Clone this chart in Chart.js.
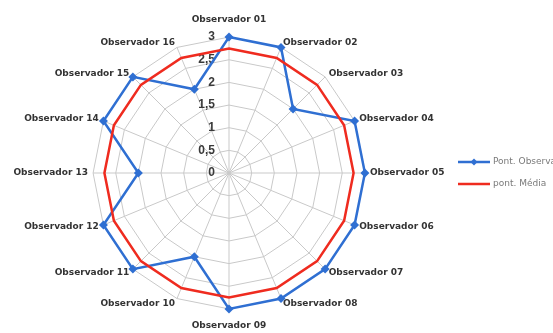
<!DOCTYPE html>
<html lang="pt">
<head>
<meta charset="utf-8">
<title>Pontuação por observador</title>
<script src="https://cdn.jsdelivr.net/npm/chart.js@4/dist/chart.umd.min.js"></script>
<style>
  html, body { margin: 0; padding: 0; background: #ffffff; }
  #grafico { display: block; }
</style>
</head>
<body>
<canvas id="grafico" width="553" height="333"></canvas>
<script>
// Observadores (eixos do radar)
const observadores = [
  'Observador 01', 'Observador 02', 'Observador 03', 'Observador 04',
  'Observador 05', 'Observador 06', 'Observador 07', 'Observador 08',
  'Observador 09', 'Observador 10', 'Observador 11', 'Observador 12',
  'Observador 13', 'Observador 14', 'Observador 15', 'Observador 16'
];

// Pontuação de cada observador
const pontObservador = [3, 3, 2, 3, 3, 3, 3, 3, 3, 2, 3, 3, 2, 3, 3, 2];

// Pontuação média
const pontMedia = [2.75, 2.75, 2.75, 2.75, 2.75, 2.75, 2.75, 2.75,
                   2.75, 2.75, 2.75, 2.75, 2.75, 2.75, 2.75, 2.75];

// Valores e rótulos da escala radial
const valoresEixo = [0, 0.5, 1, 1.5, 2, 2.5, 3];
const rotulosEixo = ['0', '0,5', '1', '1,5', '2', '2,5', '3'];

const nomesSeries = ['Pont. Observador', 'pont. Média'];

const AZUL = '#2f6fd2';
const VERMELHO = '#ef2b1f';

// Rótulos da escala, à esquerda do eixo vertical
const rotulosEscala = {
  id: 'rotulosEscala',
  beforeDatasetsDraw(chart) {
    const r = chart.scales.r;
    const ctx = chart.ctx;
    ctx.save();
    ctx.font = 'bold 12px "Liberation Sans", Arial, sans-serif';
    ctx.fillStyle = '#3a3a3a';
    ctx.textAlign = 'right';
    ctx.textBaseline = 'middle';
    valoresEixo.forEach((v, i) => {
      const d = r.getDistanceFromCenterForValue(v);
      ctx.fillText(rotulosEixo[i], r.xCenter - 14, r.yCenter - d);
    });
    ctx.restore();
  }
};

// Legenda à direita
const legenda = {
  id: 'legenda',
  afterDraw(chart) {
    const ctx = chart.ctx;
    ctx.save();
    chart.data.datasets.forEach((ds, i) => {
      const y = 162 + i * 22;
      ctx.strokeStyle = ds.borderColor;
      ctx.lineWidth = 2.5;
      ctx.beginPath();
      ctx.moveTo(458, y);
      ctx.lineTo(490, y);
      ctx.stroke();
      if (ds.pointRadius > 0) {
        ctx.fillStyle = ds.borderColor;
        ctx.beginPath();
        ctx.moveTo(474, y - 3.5);
        ctx.lineTo(477.5, y);
        ctx.lineTo(474, y + 3.5);
        ctx.lineTo(470.5, y);
        ctx.closePath();
        ctx.fill();
      }
      ctx.font = '9px "DejaVu Sans", sans-serif';
      ctx.fillStyle = '#7a7a7a';
      ctx.textAlign = 'left';
      ctx.textBaseline = 'middle';
      ctx.fillText(ds.label, 493, y);
    });
    ctx.restore();
  }
};

new Chart(document.getElementById('grafico'), {
  type: 'radar',
  data: {
    labels: observadores,
    datasets: [
      {
        label: nomesSeries[0],
        data: pontObservador,
        borderColor: AZUL,
        backgroundColor: AZUL,
        borderWidth: 2.5,
        fill: false,
        tension: 0,
        pointStyle: 'rectRot',
        pointRadius: 4.5,
        pointBackgroundColor: AZUL,
        pointBorderColor: AZUL,
        pointBorderWidth: 0,
        order: 2
      },
      {
        label: nomesSeries[1],
        data: pontMedia,
        borderColor: VERMELHO,
        backgroundColor: VERMELHO,
        borderWidth: 2.5,
        fill: false,
        tension: 0,
        pointRadius: 0,
        order: 1
      }
    ]
  },
  options: {
    responsive: false,
    animation: false,
    layout: { padding: { left: 0, right: 95, top: 20, bottom: 7 } },
    plugins: {
      legend: { display: false },
      tooltip: { enabled: false }
    },
    scales: {
      r: {
        min: 0,
        max: 3,
        ticks: { display: false, stepSize: 0.5 },
        grid: { color: '#c9c9c9', lineWidth: 1 },
        angleLines: { color: '#c9c9c9', lineWidth: 1 },
        pointLabels: {
          color: '#333333',
          font: { family: '"DejaVu Sans", sans-serif', size: 9, weight: 'bold', lineHeight: 0.01 },
          padding: (c) => (c.index % 8 === 0 ? 17 : 5)
        }
      }
    }
  },
  plugins: [rotulosEscala, legenda]
});
</script>
</body>
</html>
